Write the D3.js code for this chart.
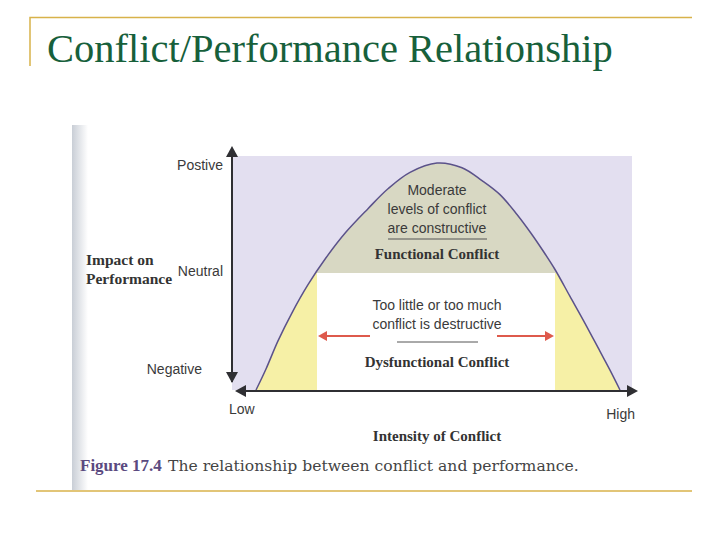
<!DOCTYPE html>
<html>
<head>
<meta charset="utf-8">
<script src="https://cdn.jsdelivr.net/npm/d3@7"></script>
<style>
  body { margin: 0; background: #fff; }
  svg { display: block; }
</style>
</head>
<body>
<div class="chart"></div>
<script>
// curve: intensity (0-100) vs impact (0-100)
const intensity = [6, 8.5, 11.5, 15, 19, 23.5, 28.5, 34, 39, 44.5, 51.25, 57.5, 62.5, 67, 71.25, 74.75, 77.75, 80.75, 84.5, 88.25, 92, 94.5, 97]
const impact    = [0, 9, 21, 33, 45, 56.5, 67.5, 77.5, 86, 93, 97, 95, 89.5, 83.5, 75, 67, 59.5, 51.5, 40, 28.5, 16.5, 8.5, 0]

const impactTicks = [9, 51, 96]
const impactLabels = ["Negative", "Neutral", "Postive"]
const intensityLabels = ["Low", "High"]

const functionalLevel = 50
const dysfunctionalBand = [21.25, 80.75]

const width = 728
const height = 546

const x = d3.scaleLinear().domain([0, 100]).range([232, 632])
const y = d3.scaleLinear().domain([0, 100]).range([390, 156])

const sans = "'Liberation Sans Narrow', 'Arial Narrow', 'Liberation Sans', sans-serif"
const serif = "'Liberation Serif', 'Times New Roman', serif"

const svg = d3.select(".chart").append("svg")
  .attr("width", width)
  .attr("height", height)

// slide frame
const gold = "#d8b24a"
svg.append("path")
  .attr("d", "M30,66 V17.5 H692")
  .attr("fill", "none")
  .attr("stroke", gold)
  .attr("stroke-width", 1.5)
svg.append("line")
  .attr("x1", 36).attr("x2", 692)
  .attr("y1", 491).attr("y2", 491)
  .attr("stroke", gold)
  .attr("stroke-width", 1.5)

svg.append("text")
  .attr("x", 47)
  .attr("y", 62)
  .attr("font-family", serif)
  .attr("font-size", 40.5)
  .attr("fill", "#17603b")
  .text("Conflict/Performance Relationship")

// scanned page edge
const defs = svg.append("defs")
const edge = defs.append("linearGradient").attr("id", "edge")
edge.append("stop").attr("offset", "0%").attr("stop-color", "#c9ced6")
edge.append("stop").attr("offset", "100%").attr("stop-color", "#fff")
svg.append("rect")
  .attr("x", 72).attr("y", 125)
  .attr("width", 16).attr("height", 365)
  .attr("fill", "url(#edge)")

// plot
const pts = intensity.map((d, i) => [d, impact[i]])

const area = d3.area()
  .x(d => x(d[0]))
  .y0(y(0))
  .y1(d => y(d[1]))
  .curve(d3.curveCatmullRom)

const line = d3.line()
  .x(d => x(d[0]))
  .y(d => y(d[1]))
  .curve(d3.curveCatmullRom)

defs.append("clipPath").attr("id", "hump")
  .append("path").attr("d", area(pts))

svg.append("rect")
  .attr("x", x(0)).attr("y", y(100))
  .attr("width", x(100) - x(0))
  .attr("height", y(0) - y(100))
  .attr("fill", "#e3dff0")

const inside = svg.append("g").attr("clip-path", "url(#hump)")
inside.append("rect")
  .attr("x", x(0)).attr("y", y(100))
  .attr("width", x(100) - x(0))
  .attr("height", y(functionalLevel) - y(100))
  .attr("fill", "#d8d8c3")
inside.append("rect")
  .attr("x", x(0)).attr("y", y(functionalLevel))
  .attr("width", x(100) - x(0))
  .attr("height", y(0) - y(functionalLevel))
  .attr("fill", "#f6f0a6")

svg.append("rect")
  .attr("x", x(dysfunctionalBand[0])).attr("y", y(functionalLevel))
  .attr("width", x(dysfunctionalBand[1]) - x(dysfunctionalBand[0]))
  .attr("height", y(0) - y(functionalLevel))
  .attr("fill", "#fff")

svg.append("path")
  .attr("d", line(pts))
  .attr("fill", "none")
  .attr("stroke", "#5b528a")
  .attr("stroke-width", 1.5)

// axes
const axisColor = "#2f2f33"
const yAxis = svg.append("g")
  .attr("transform", `translate(${x(0)},0)`)
  .call(d3.axisLeft(y).tickValues(impactTicks)
    .tickFormat((d, i) => impactLabels[i])
    .tickSize(0).tickPadding(9))
yAxis.select(".domain").remove()
yAxis.selectAll("text")
  .attr("font-family", sans)
  .attr("font-size", 14)
  .attr("fill", "#3a3a3a")
  .attr("dx", (d, i) => i === 0 ? -21 : 0)

svg.append("line")
  .attr("x1", x(0)).attr("x2", x(0))
  .attr("y1", y(100) - 6).attr("y2", y(0) - 8)
  .attr("stroke", axisColor).attr("stroke-width", 2)
svg.append("line")
  .attr("x1", x(0) + 5).attr("x2", x(100) + 2)
  .attr("y1", y(0) + 1).attr("y2", y(0) + 1)
  .attr("stroke", axisColor).attr("stroke-width", 2)

const arrow = (px, py, dir) => {
  const s = 6, l = 11
  const shapes = {
    up: `M${px},${py} L${px - s},${py + l} L${px + s},${py + l}Z`,
    down: `M${px},${py} L${px - s},${py - l} L${px + s},${py - l}Z`,
    left: `M${px},${py} L${px + l},${py - s} L${px + l},${py + s}Z`,
    right: `M${px},${py} L${px - l},${py - s} L${px - l},${py + s}Z`
  }
  svg.append("path").attr("d", shapes[dir]).attr("fill", axisColor)
}
arrow(x(0), y(100) - 10, "up")
arrow(x(0), y(0) - 7, "down")
arrow(x(0) + 3, y(0) + 1, "left")
arrow(x(100) + 6, y(0) + 1, "right")

svg.selectAll(".xlabel")
  .data(intensityLabels)
  .join("text")
  .attr("x", (d, i) => i ? x(100) + 3 : x(0) - 3)
  .attr("y", (d, i) => i ? 419 : 414)
  .attr("text-anchor", (d, i) => i ? "end" : "start")
  .attr("font-family", sans)
  .attr("font-size", 14)
  .attr("fill", "#3a3a3a")
  .text(d => d)

svg.append("text")
  .attr("x", 437).attr("y", 441)
  .attr("text-anchor", "middle")
  .attr("font-family", serif)
  .attr("font-weight", "bold")
  .attr("font-size", 15)
  .attr("fill", "#333")
  .text("Intensity of Conflict")

const yTitle = svg.append("text")
  .attr("font-family", serif)
  .attr("font-weight", "bold")
  .attr("font-size", 15.5)
  .attr("fill", "#333")
yTitle.append("tspan").attr("x", 86).attr("y", 265).text("Impact on")
yTitle.append("tspan").attr("x", 86).attr("y", 284).text("Performance")

// labels inside the hump
const cx = 437
const note = (lines, y0, step) => {
  lines.forEach((t, i) => {
    svg.append("text")
      .attr("x", cx).attr("y", y0 + i * step)
      .attr("text-anchor", "middle")
      .attr("font-family", sans)
      .attr("font-size", 14)
      .attr("fill", "#3a3a3a")
      .text(t)
  })
}
note(["Moderate", "levels of conflict", "are constructive"], 195, 19)
svg.append("line")
  .attr("x1", 388).attr("x2", 487)
  .attr("y1", 239).attr("y2", 239)
  .attr("stroke", "#555").attr("stroke-width", 1)
svg.append("text")
  .attr("x", cx).attr("y", 259)
  .attr("text-anchor", "middle")
  .attr("font-family", serif)
  .attr("font-weight", "bold")
  .attr("font-size", 15)
  .attr("fill", "#333")
  .text("Functional Conflict")

note(["Too little or too much", "conflict is destructive"], 310, 19)
svg.append("line")
  .attr("x1", 397).attr("x2", 478)
  .attr("y1", 342).attr("y2", 342)
  .attr("stroke", "#555").attr("stroke-width", 1)
svg.append("text")
  .attr("x", cx).attr("y", 367)
  .attr("text-anchor", "middle")
  .attr("font-family", serif)
  .attr("font-weight", "bold")
  .attr("font-size", 15)
  .attr("fill", "#333")
  .text("Dysfunctional Conflict")

// red arrows pointing out to the extremes
const red = "#de5a4c"
const redArrow = (from, to) => {
  const dir = Math.sign(to - from)
  svg.append("line")
    .attr("x1", from).attr("x2", to - dir * 8)
    .attr("y1", 336).attr("y2", 336)
    .attr("stroke", red).attr("stroke-width", 2)
  svg.append("path")
    .attr("d", `M${to},336 L${to - dir * 9},331 L${to - dir * 9},341Z`)
    .attr("fill", red)
}
redArrow(370, x(dysfunctionalBand[0]) + 1)
redArrow(497, x(dysfunctionalBand[1]) - 1)

// caption
const cap = svg.append("text")
  .attr("x", 80).attr("y", 471)
cap.append("tspan")
  .attr("font-family", serif)
  .attr("font-size", 17)
  .attr("font-weight", "bold")
  .attr("fill", "#5b4a80")
  .text("Figure 17.4")
cap.append("tspan")
  .attr("x", 168)
  .attr("font-family", "'DejaVu Serif', serif")
  .attr("font-size", 15.6)
  .attr("fill", "#444")
  .text("The relationship between conflict and performance.")
</script>
</body>
</html>
